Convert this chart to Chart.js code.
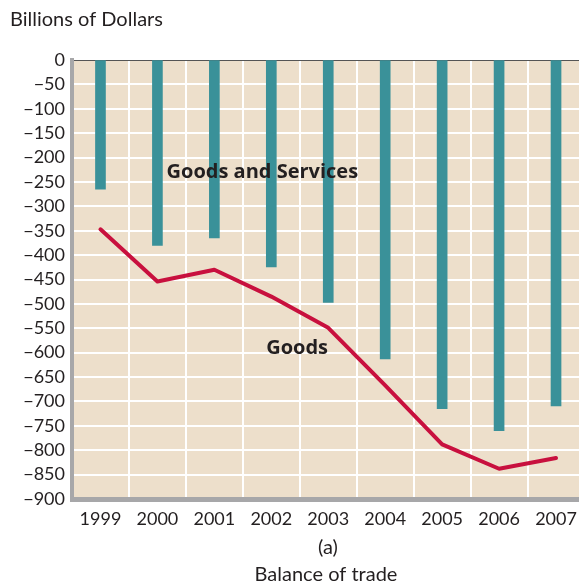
<!DOCTYPE html>
<html>
<head>
<meta charset="utf-8">
<script src="https://cdn.jsdelivr.net/npm/chart.js@4"></script>
<style>
  html, body { margin: 0; padding: 0; background: #fff; overflow: hidden; }
  #wrap { position: relative; width: 579px; height: 584px; overflow: hidden; }
  #wrap canvas { position: absolute; left: 0; top: 0; }
</style>
</head>
<body>
<div id="wrap"><canvas id="tradeChart" width="600" height="584"></canvas></div>
<script>
const years = ['1999', '2000', '2001', '2002', '2003', '2004', '2005', '2006', '2007'];
// balance on goods and services (bars), billions of dollars
const goodsAndServices = [-265, -380, -365, -424, -497, -613, -715, -760, -709];
// balance on goods only (line)
const goods = [-347, -454, -430, -485, -549, -667, -788, -838, -816];
const yTicks = [0, -50, -100, -150, -200, -250, -300, -350, -400, -450, -500, -550, -600, -650, -700, -750, -800, -850, -900];

const FONT = 'Lato, "Open Sans", sans-serif';
const BOLD_FONT = '"Open Sans", Lato, sans-serif';
const INK = '#231f20';

const minus = v => v < 0 ? '\u2212' + Math.abs(v) : String(v);

// labels inside the plot, placed in data coordinates
const notes = [
  { text: 'Goods and Services', x: 1.16, y: -231 },
  { text: 'Goods', x: 2.91, y: -591 }
];

const extras = {
  id: 'extras',
  beforeDraw(chart) {
    const { ctx, chartArea: a } = chart;
    ctx.save();
    ctx.fillStyle = '#eddfcb';
    ctx.fillRect(a.left, a.top, a.right - a.left, a.bottom - a.top);
    ctx.restore();
  },
  afterDraw(chart) {
    const { ctx, scales } = chart;
    ctx.save();
    ctx.fillStyle = INK;
    ctx.textBaseline = 'middle';
    ctx.font = 'bold 20px ' + BOLD_FONT;
    ctx.textAlign = 'left';
    notes.forEach(n => {
      ctx.fillText(n.text, scales.x.getPixelForValue(n.x), scales.y.getPixelForValue(n.y));
    });
    ctx.font = '20px ' + FONT;
    ctx.fillText('Billions of Dollars', 10, 20);
    ctx.textAlign = 'center';
    ctx.fillText('(a)', 328, 548);
    ctx.fillText('Balance of trade', 326, 575);
    ctx.restore();
  }
};

new Chart(document.getElementById('tradeChart'), {
  data: {
    labels: years,
    datasets: [
      {
        type: 'line',
        label: 'Goods',
        data: goods,
        borderColor: '#c8103e',
        borderWidth: 4,
        pointRadius: 0,
        tension: 0,
        borderCapStyle: 'round',
        borderJoinStyle: 'round',
        order: 0
      },
      {
        type: 'bar',
        label: 'Goods and Services',
        data: goodsAndServices,
        backgroundColor: '#3a9199',
        barThickness: 10,
        order: 1
      }
    ]
  },
  options: {
    responsive: false,
    animation: false,
    layout: { padding: { top: 60, right: 15.5, bottom: 0, left: 0 } },
    plugins: { legend: { display: false }, tooltip: { enabled: false } },
    scales: {
      x: {
        offset: true,
        grid: { color: '#ffffff', lineWidth: 2, offset: true, drawTicks: false },
        border: { color: '#a7a7a9', width: 5 },
        ticks: { color: INK, font: { family: FONT, size: 18 }, padding: 9, maxRotation: 0, autoSkip: false },
        afterFit(scale) { scale.height = 85; }
      },
      y: {
        min: -900,
        max: 0,
        afterBuildTicks(scale) { scale.ticks = yTicks.map(v => ({ value: v })); },
        grid: {
          color: c => c.tick && c.tick.value === 0 ? '#555555' : '#ffffff',
          lineWidth: c => c.tick && c.tick.value === 0 ? 1 : 2,
          drawTicks: false
        },
        border: { color: '#a7a7a9', width: 4 },
        ticks: { color: INK, font: { family: FONT, size: 18 }, padding: 7, autoSkip: false, callback: v => minus(v) },
        afterFit(scale) { scale.width = 72; }
      }
    }
  },
  plugins: [extras]
});
</script>
</body>
</html>
